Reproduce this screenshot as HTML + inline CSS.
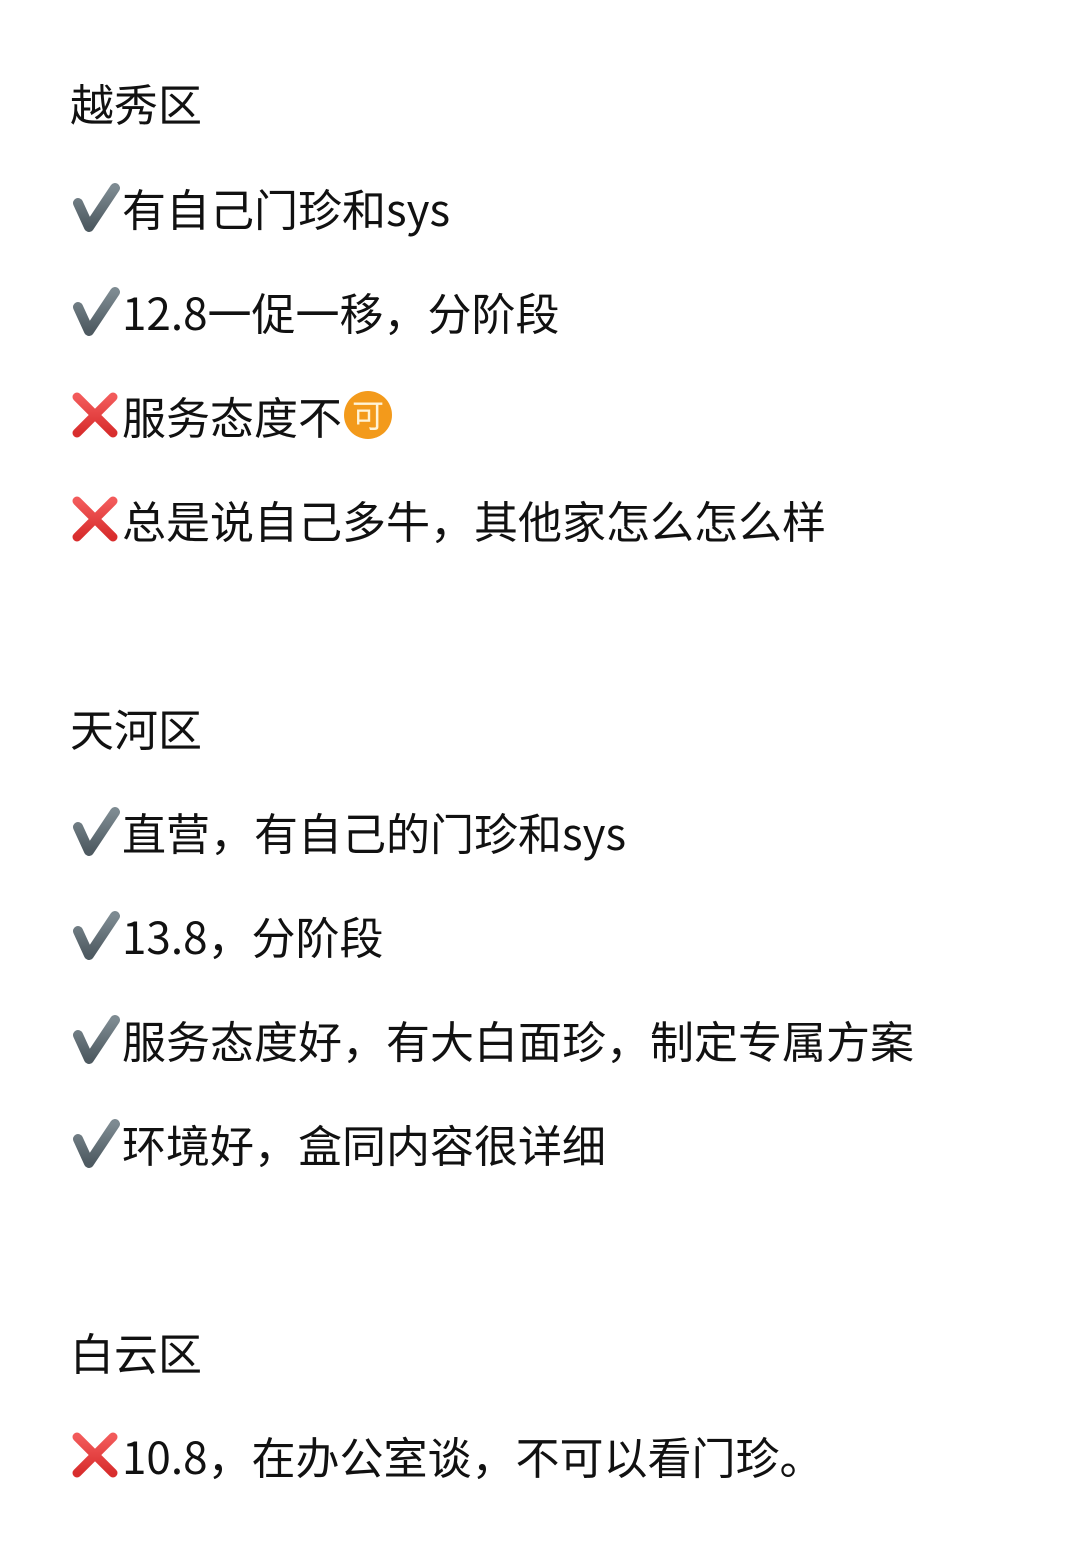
<!DOCTYPE html>
<html><head><meta charset="utf-8">
<style>
html,body{margin:0;padding:0;background:#fff;}
body{width:1080px;height:1555px;position:relative;overflow:hidden;font-family:"Noto Sans CJK SC","Liberation Sans",sans-serif;color:#111;}
.r{position:absolute;left:70px;height:60px;line-height:60px;font-size:44px;white-space:nowrap;display:flex;align-items:center;}
.r svg{flex:none;}
.t{margin-left:2px;}
</style></head><body>
<svg width="0" height="0" style="position:absolute">
<defs>
<linearGradient id="g" x1="0" y1="0" x2="0" y2="1"><stop offset="0" stop-color="#7d8a91"/><stop offset="1" stop-color="#4e5a61"/></linearGradient>
<linearGradient id="rg" x1="0" y1="0" x2="0" y2="1"><stop offset="0" stop-color="#f25a5a"/><stop offset="1" stop-color="#d82d2d"/></linearGradient>
<symbol id="ck" viewBox="0 0 50 50"><path d="M8 21 L19 45 L45 6" fill="none" stroke="url(#g)" stroke-width="10" stroke-linecap="round" stroke-linejoin="round"/></symbol>
<symbol id="xx" viewBox="0 0 50 50"><path d="M7 7 L43 43 M43 7 L7 43" fill="none" stroke="url(#rg)" stroke-width="9" stroke-linecap="round"/></symbol>
</defs></svg>

<div class="r" style="top:72px">越秀区</div>
<div class="r" style="top:177px"><svg width="50" height="50"><use href="#ck"/></svg><span class="t">有自己门珍和sys</span></div>
<div class="r" style="top:281px"><svg width="50" height="50"><use href="#ck"/></svg><span class="t">12.8一促一移，分阶段</span></div>
<div class="r" style="top:385px"><svg width="50" height="50"><use href="#xx"/></svg><span class="t">服务态度不</span><svg width="52" height="52" viewBox="0 0 52 52"><circle cx="26" cy="26" r="24" fill="#f39a1b"/><text x="26" y="38" text-anchor="middle" font-size="32" fill="#fff3d6" font-family="Noto Sans CJK SC,sans-serif">可</text></svg></div>
<div class="r" style="top:489px"><svg width="50" height="50"><use href="#xx"/></svg><span class="t">总是说自己多牛，其他家怎么怎么样</span></div>

<div class="r" style="top:697px">天河区</div>
<div class="r" style="top:801px"><svg width="50" height="50"><use href="#ck"/></svg><span class="t">直营，有自己的门珍和sys</span></div>
<div class="r" style="top:905px"><svg width="50" height="50"><use href="#ck"/></svg><span class="t">13.8，分阶段</span></div>
<div class="r" style="top:1009px"><svg width="50" height="50"><use href="#ck"/></svg><span class="t">服务态度好，有大白面珍，制定专属方案</span></div>
<div class="r" style="top:1113px"><svg width="50" height="50"><use href="#ck"/></svg><span class="t">环境好，盒同内容很详细</span></div>

<div class="r" style="top:1321px">白云区</div>
<div class="r" style="top:1425px"><svg width="50" height="50"><use href="#xx"/></svg><span class="t">10.8，在办公室谈，不可以看门珍。</span></div>
</body></html>
